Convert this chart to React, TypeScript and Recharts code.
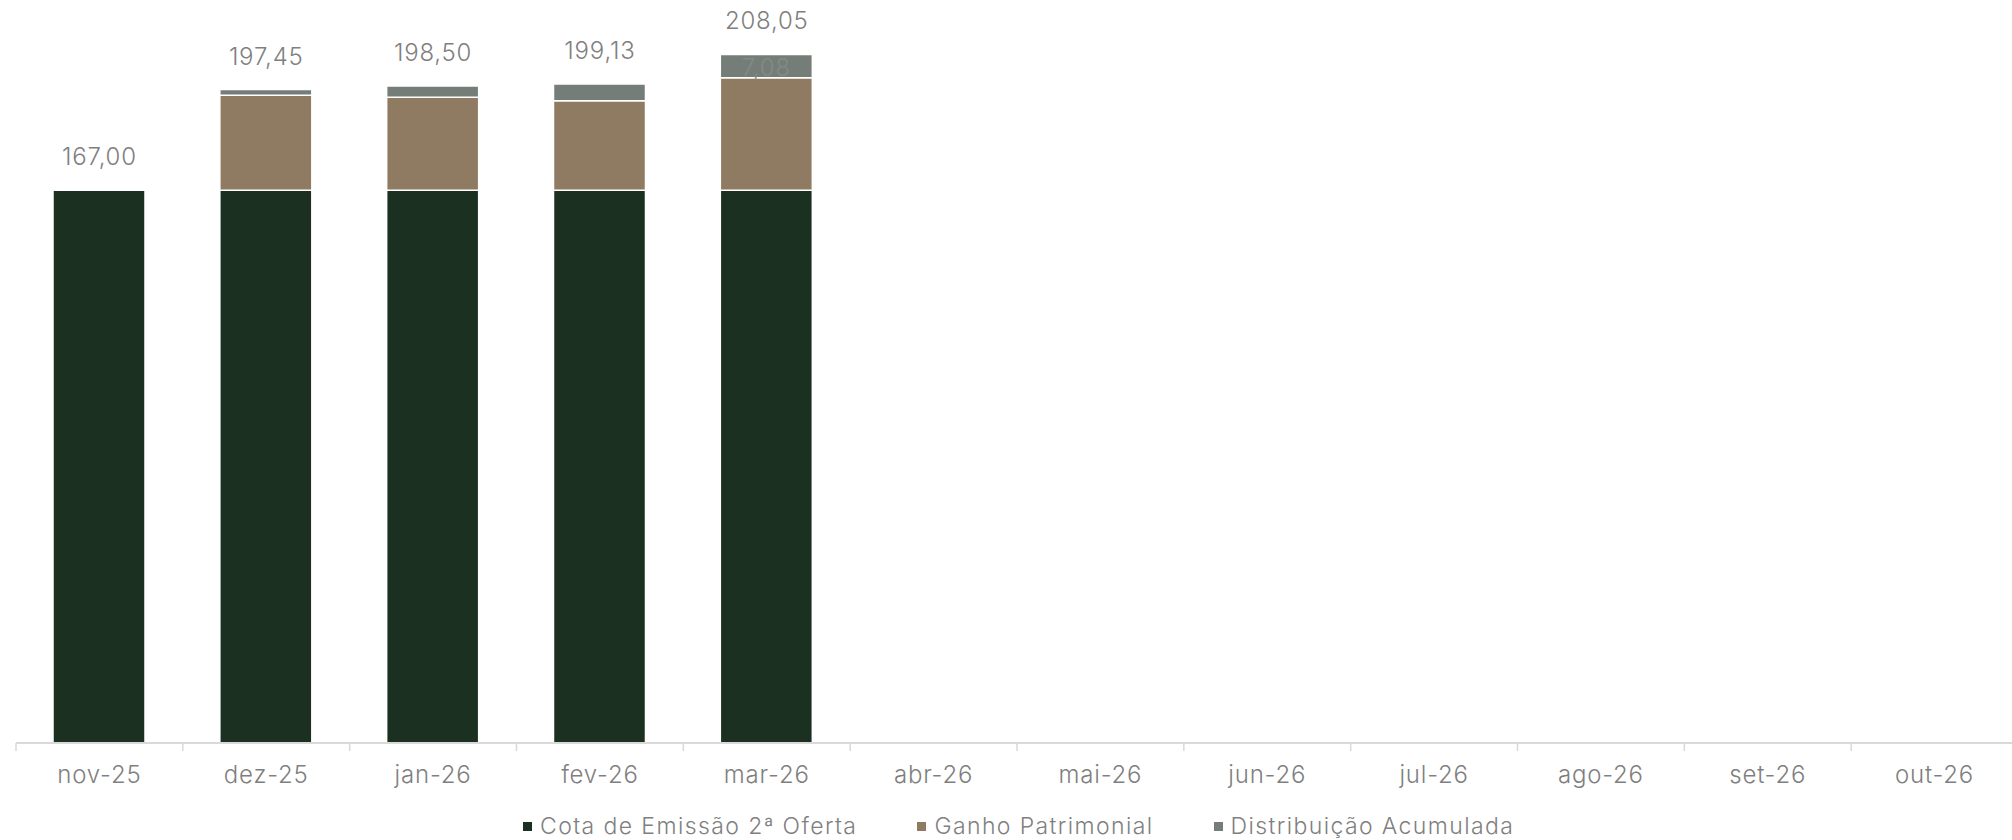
import { ComposedChart, Bar, Line, XAxis, YAxis, LabelList } from "recharts";

const categories = ["nov-25", "dez-25", "jan-26", "fev-26", "mar-26", "abr-26", "mai-26", "jun-26", "jul-26", "ago-26", "set-26", "out-26"];
const cotaEmissao = [167, 167, 167, 167, 167, null, null, null, null, null, null, null];
const ganhoPatrimonial = [null, 28.75, 28.1, 27.03, 33.97, null, null, null, null, null, null, null];
const distribuicao = [null, 1.7, 3.4, 5.1, 7.08, null, null, null, null, null, null, null];
const totals = [167.0, 197.45, 198.5, 199.13, 208.05, null, null, null, null, null, null, null];
const distLabels = ["", "", "", "", "7,08", "", "", "", "", "", "", ""];

const seriesNames = ["Cota de Emissão 2ª Oferta", "Ganho Patrimonial", "Distribuição Acumulada"];
const colors = ["#1b3020", "#8f7b62", "#747d78"];

const FONT = "Inter, sans-serif";
const WEIGHT = 300;
const SIZE = 24;
const SPACING = 0.8;
const TEXT = "#7f7f7f";
const BAND = 2002 / 12;

const data = categories.map((c, i) => ({
  cat: c,
  cota: cotaEmissao[i],
  ganho: ganhoPatrimonial[i],
  dist: distribuicao[i],
  total: totals[i],
  distLabel: distLabels[i],
}));

const fmt = (v: any) => (v == null ? "" : Number(v).toFixed(2).replace(".", ","));

function Tick(props: any) {
  const { x, y, payload } = props;
  return (
    <g>
      <line x1={x - BAND / 2} x2={x - BAND / 2} y1={y - 8} y2={y} stroke="#d9d9d9" strokeWidth={1.5} />
      <text x={x} y={y + 32} textAnchor="middle" fill={TEXT} fontSize={SIZE} fontWeight={WEIGHT} fontFamily={FONT} letterSpacing={SPACING}>
        {payload.value}
      </text>
    </g>
  );
}

export default function App() {
  return (
    <div style={{ position: "absolute", left: 0, top: 0, width: 2012, height: 840, background: "#fff", overflow: "hidden" }}>
      <ComposedChart width={2012} height={840} data={data} margin={{ top: 0, right: -6, left: 16, bottom: 37 }} barCategoryGap={0}>
        <XAxis
          dataKey="cat"
          height={60}
          axisLine={{ stroke: "#d9d9d9", strokeWidth: 2 }}
          tickLine={false}
          tick={<Tick />}
          interval={0}
        />
        <YAxis hide domain={[0, 224.5]} />
        <Bar dataKey="cota" stackId="a" fill={colors[0]} stroke="#fff" strokeWidth={1.5} barSize={92} isAnimationActive={false} />
        <Bar dataKey="ganho" stackId="a" fill={colors[1]} stroke="#fff" strokeWidth={1.5} barSize={92} isAnimationActive={false} />
        <Bar dataKey="dist" stackId="a" fill={colors[2]} stroke="#fff" strokeWidth={1.5} barSize={92} isAnimationActive={false}>
          <LabelList dataKey="distLabel" position="center" offset={0} dy={1} fill="#838a85" fontSize={SIZE} fontWeight={WEIGHT} fontFamily={FONT} letterSpacing={SPACING} />
        </Bar>
        <Line dataKey="total" stroke="none" dot={false} activeDot={false} isAnimationActive={false} legendType="none">
          <LabelList dataKey="total" position="top" offset={25} formatter={fmt} fill={TEXT} fontSize={SIZE} fontWeight={WEIGHT} fontFamily={FONT} letterSpacing={SPACING} />
        </Line>
      </ComposedChart>
      <div
        style={{
          position: "absolute",
          left: 523,
          top: 812,
          height: 28,
          display: "flex",
          alignItems: "center",
          gap: 60,
          fontFamily: FONT,
          fontWeight: WEIGHT,
          fontSize: 23,
          lineHeight: "28px",
          letterSpacing: 1.4,
          color: TEXT,
          whiteSpace: "nowrap",
        }}
      >
        {seriesNames.map((n, i) => (
          <span key={n} style={{ display: "flex", alignItems: "center", gap: 8 }}>
            <span style={{ width: 9, height: 9, background: colors[i], display: "inline-block" }} />
            {n}
          </span>
        ))}
      </div>
    </div>
  );
}
